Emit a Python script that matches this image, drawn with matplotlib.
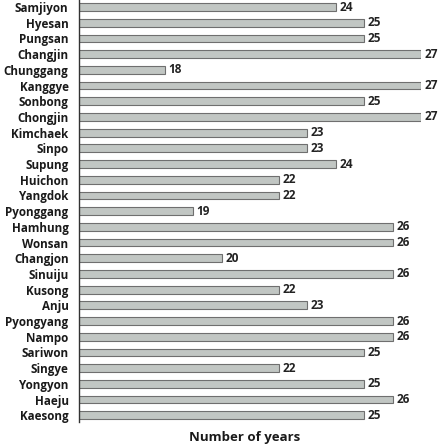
import matplotlib
matplotlib.use("Agg")
import matplotlib.pyplot as plt
import numpy as np

plt.rcParams['font.family'] = ['Open Sans', 'DejaVu Sans']

# stations, north to south
stations = ["Samjiyon", "Hyesan", "Pungsan", "Changjin", "Chunggang", "Kanggye",
            "Sonbong", "Chongjin", "Kimchaek", "Sinpo", "Supung", "Huichon",
            "Yangdok", "Pyonggang", "Hamhung", "Wonsan", "Changjon", "Sinuiju",
            "Kusong", "Anju", "Pyongyang", "Nampo", "Sariwon", "Singye",
            "Yongyon", "Haeju", "Kaesong"]
years = [24, 25, 25, 27, 18, 27, 25, 27, 23, 23, 24, 22, 22, 19, 26, 26, 20,
         26, 22, 23, 26, 26, 25, 22, 25, 26, 25]

W, H = 438, 444
fig = plt.figure(figsize=(W / 100, H / 100), dpi=100)
ax = fig.add_axes([79 / W, 22 / H, (421 - 79) / W, (H - 22) / H])

y = np.arange(len(stations))
ax.barh(y, years, left=0, height=0.5, color='#c1c6c3', edgecolor='#6f6f6f', linewidth=0.8)

for yi, v in zip(y, years):
    ax.text(v + 0.13, yi, str(v), va='center', ha='left', fontsize=8.5,
            fontweight='bold', color='#222222')

ax.set_xlim(15, 27)
ax.set_ylim(len(stations) - 0.57, -0.45)
ax.set_yticks(y)
ax.set_yticklabels(stations, fontsize=8.4, fontweight='bold', color='#1a1a1a')
ax.tick_params(axis='y', length=0, pad=7.5)
ax.set_xticks([])
for s in ['top', 'right', 'bottom']:
    ax.spines[s].set_visible(False)
ax.spines['left'].set_color('#333333')
ax.spines['left'].set_linewidth(1.0)

fig.text(245 / W, 1 - 437 / H, "Number of years", ha='center', va='center',
         fontsize=9.5, fontweight='bold', color='#1a1a1a')

fig.savefig("out.png", dpi=100)
